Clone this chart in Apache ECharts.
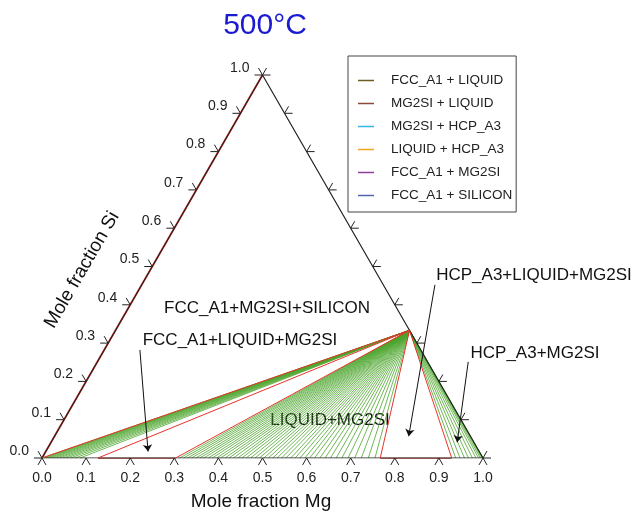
<!DOCTYPE html>
<html>
<head>
<meta charset="utf-8">
<script src="https://cdn.jsdelivr.net/npm/echarts@6/dist/echarts.min.js"></script>
<style>
html,body{margin:0;padding:0;background:#fff}
#main{width:635px;height:519px}
</style>
</head>
<body>
<div id="main"></div>
<script>
// Mg2Si corner of every tie line (mole fraction Mg, Si)
var mg2si = [0.6667, 0.3333];
// other ends of the tie lines, on the Al-Mg edge (mole fraction Mg)
var fccMg2siEnds = [0.000, 0.004, 0.009, 0.014, 0.020, 0.026, 0.033, 0.040, 0.048, 0.056, 0.065, 0.075, 0.086];
var liqMg2siEnds = [0.312, 0.321, 0.330, 0.339, 0.349, 0.358, 0.367, 0.377, 0.386, 0.396, 0.405, 0.415, 0.424, 0.434,
  0.444, 0.453, 0.463, 0.473, 0.483, 0.493, 0.503, 0.513, 0.523, 0.533, 0.543, 0.553, 0.564, 0.574, 0.585, 0.596,
  0.607, 0.618, 0.630, 0.642, 0.654, 0.667, 0.680, 0.694, 0.709, 0.724, 0.740, 0.755];
var hcpMg2siEnds = [0.938, 0.948, 0.958, 0.967, 0.976, 0.984, 0.990, 0.994, 0.997, 0.999, 1.0];
// three-phase triangle edges (red), Mg end on the Al-Mg edge
var boundaryEnds = [0.0, 0.127, 0.303, 0.767, 0.929];
// two-phase pieces of the Al-Mg binary
var binaryPieces = [[0.127, 0.303], [0.767, 0.929]];

var tickVals = [0.0, 0.1, 0.2, 0.3, 0.4, 0.5, 0.6, 0.7, 0.8, 0.9, 1.0];
var tickLabels = ['0.0', '0.1', '0.2', '0.3', '0.4', '0.5', '0.6', '0.7', '0.8', '0.9', '1.0'];

var legendNames = ['FCC_A1 + LIQUID', 'MG2SI + LIQUID', 'MG2SI + HCP_A3', 'LIQUID + HCP_A3', 'FCC_A1 + MG2SI', 'FCC_A1 + SILICON'];
var legendColors = ['#6b5e22', '#8b4a3a', '#3ab4e6', '#f4a41c', '#8e3f9e', '#5364ae'];

var FONT = 'Liberation Sans, Arial, sans-serif';
var GREEN = '#4ba42c';
var RED = '#e8332b';

// ternary (Mg, Si) -> plot x/y
function tern(mg, si) {
	return [mg + si / 2, si];
}

function tieLines(ends) {
	return ends.map(function(m) {
		return { coords: [tern(m, 0), tern(mg2si[0], mg2si[1])] };
	});
}

var greenData = tieLines(fccMg2siEnds).concat(tieLines(liqMg2siEnds)).concat(tieLines(hcpMg2siEnds));
var redData = tieLines(boundaryEnds);
var binData = binaryPieces.map(function(p) {
	return { coords: [tern(p[0], 0), tern(p[1], 0)] };
});

var outline = [tern(0, 0), tern(1, 0), tern(0, 1), tern(0, 0)];

// arrows (Mg, Si) start -> end
var arrows = [
	[[0.081, 0.282], [0.232, 0.017]],
	[[0.665, 0.452], [0.803, 0.057]],
	[[0.841, 0.251], [0.921, 0.041]]
];

function tickSeries(edge) {
	return {
		type: 'custom',
		coordinateSystem: 'cartesian2d',
		silent: true,
		z: 5,
		data: tickVals.map(function(v, i) {
			var p = edge == 'bottom' ? tern(v, 0) : edge == 'left' ? tern(0, v) : tern(1 - v, v);
			return [p[0], p[1], i];
		}),
		renderItem: function(params, api) {
			var c = api.coord([api.value(0), api.value(1)]);
			var L = 8;
			var angs = edge == 'bottom' ? [240, 300] : edge == 'left' ? [180, 120] : [0, 60];
			var kids = angs.map(function(a) {
				var r = a * Math.PI / 180;
				return {
					type: 'line',
					shape: { x1: c[0], y1: c[1], x2: c[0] + L * Math.cos(r), y2: c[1] - L * Math.sin(r) },
					style: { stroke: '#222', lineWidth: 1 }
				};
			});
			var lab = tickLabels[api.value(2)];
			if (edge == 'bottom') {
				kids.push({ type: 'text', x: c[0], y: c[1] + 20,
					style: { text: lab, align: 'center', verticalAlign: 'middle', font: '14px ' + FONT, fill: '#222' } });
			} else if (edge == 'left') {
				kids.push({ type: 'text', x: c[0] - 13, y: c[1] - 7,
					style: { text: lab, align: 'right', verticalAlign: 'middle', font: '14px ' + FONT, fill: '#222' } });
			}
			return { type: 'group', children: kids };
		}
	};
}

var series = [
	{
		type: 'lines', coordinateSystem: 'cartesian2d', silent: true, z: 1,
		lineStyle: { color: GREEN, width: 0.8, opacity: 1 },
		data: greenData
	},
	{
		// Al-Si edge, FCC_A1 + SILICON, peeks out beside the frame
		type: 'lines', coordinateSystem: 'cartesian2d', silent: true, z: 1,
		lineStyle: { color: RED, width: 1.8, opacity: 1 },
		data: [{ coords: [tern(0, 0), tern(0, 1)] }]
	},
	{
		type: 'line', silent: true, z: 2, symbol: 'none',
		lineStyle: { color: '#222', width: 1.2 },
		data: outline
	},
	{
		type: 'lines', coordinateSystem: 'cartesian2d', silent: true, z: 3,
		lineStyle: { color: RED, width: 1, opacity: 1 },
		data: redData
	},
	{
		type: 'lines', coordinateSystem: 'cartesian2d', silent: true, z: 3,
		lineStyle: { color: '#7a2a22', width: 1.4, opacity: 1 },
		data: binData
	},
	{
		type: 'lines', coordinateSystem: 'cartesian2d', silent: true, z: 6,
		symbol: ['none', 'arrow'], symbolSize: 7,
		lineStyle: { color: '#111', width: 1, opacity: 1 },
		data: arrows.map(function(a) {
			return { coords: [tern(a[0][0], a[0][1]), tern(a[1][0], a[1][1])] };
		})
	},
	tickSeries('bottom'),
	tickSeries('left'),
	tickSeries('right')
];

legendNames.forEach(function(n, i) {
	series.push({ type: 'line', name: n, symbol: 'none', data: [],
		lineStyle: { color: legendColors[i], width: 1 }, itemStyle: { color: legendColors[i] } });
});

function txt(s, x, y, size, color, rot) {
	return { type: 'text', x: x, y: y, rotation: rot || 0, silent: true,
		style: { text: s, font: size + 'px ' + FONT, fill: color || '#111', align: 'center', verticalAlign: 'middle' } };
}

var myChart = echarts.init(document.getElementById('main'));
myChart.setOption({
	animation: false,
	backgroundColor: '#fff',
	grid: { left: 42, top: 75, width: 441, height: 383 },
	xAxis: { type: 'value', min: 0, max: 1, show: false },
	yAxis: { type: 'value', min: 0, max: 1, show: false },
	legend: {
		orient: 'vertical', left: 348, top: 56,
		data: legendNames.map(function(n) { return { name: n, icon: 'rect' }; }),
		itemWidth: 16, itemHeight: 1.5, itemGap: 8,
		padding: [17, 4, 9, 10],
		borderColor: '#444', borderWidth: 1, backgroundColor: '#fff',
		selectedMode: false,
		textStyle: { fontFamily: FONT, fontSize: 13.5, color: '#222', padding: [0, 0, 0, 12], lineHeight: 15 }
	},
	graphic: [
		txt('500°C', 265, 26, 30, '#1a1ad0'),
		txt('Mole fraction Mg', 261, 502, 19),
		txt('Mole fraction Si', 82, 270, 19, '#111', Math.PI / 3),
		txt('FCC_A1+MG2SI+SILICON', 267, 308, 17),
		txt('FCC_A1+LIQUID+MG2SI', 240, 340, 17),
		txt('LIQUID+MG2SI', 330, 420, 17),
		txt('HCP_A3+LIQUID+MG2SI', 534, 275, 17),
		txt('HCP_A3+MG2SI', 535, 353, 17)
	],
	series: series
});
</script>
</body>
</html>
